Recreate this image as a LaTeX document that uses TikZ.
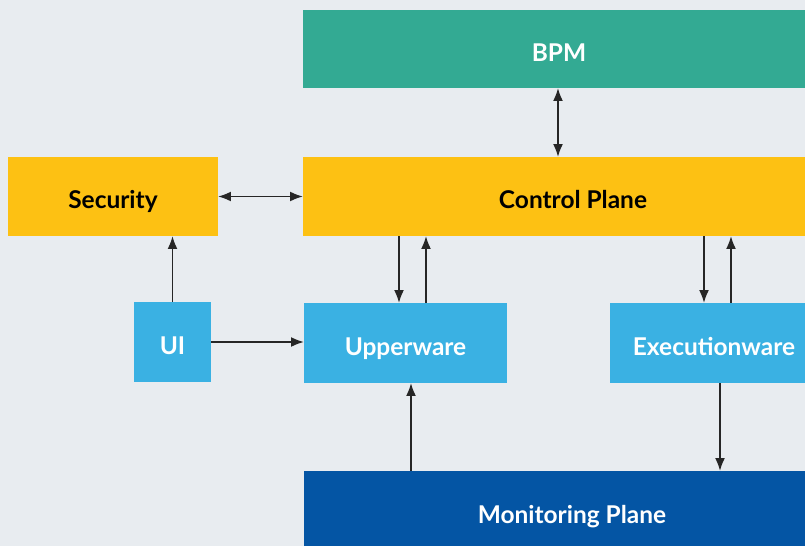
\documentclass[tikz,border=0pt]{standalone}
\usepackage{fontspec}
\setmainfont{Lato}
\usetikzlibrary{arrows.meta}
\usetikzlibrary{positioning}
\tikzset{box/.style = {rectangle, inner sep = 0, text height = 18pt, text depth = 0.6pt,
                       font = \bfseries\fontsize{17.4}{20}\selectfont}}
\tikzset{conn/.style = {line width = 0.8pt, draw = black!85, -{Latex[length=9pt, width=7pt]}}}
\tikzset{conn2/.style = {conn, {Latex[length=9pt, width=7pt]}-{Latex[length=9pt, width=7pt]}}}
\definecolor{mbg}{RGB}{232, 236, 240}
\definecolor{mteal}{RGB}{51, 170, 147}
\definecolor{myellow}{RGB}{253, 193, 19}
\definecolor{mblue}{RGB}{58, 177, 227}
\definecolor{mdark}{RGB}{4, 85, 164}
\begin{document}
\begin{tikzpicture}[x=0.025cm, y=-0.025cm]
      \useasboundingbox (0, 0) rectangle (805, 546);
      \fill [mbg] (0, 0) rectangle (805, 546);
      \clip (0, 0) rectangle (805, 546);

      \node [box, fill=mteal, text=white, minimum width=512*0.025cm, minimum height=78*0.025cm] (bpm) at (559, 49) {BPM};
      \node [box, fill=myellow, minimum width=540*0.025cm, minimum height=79*0.025cm] (cp) at (573, 196.5) {Control Plane};
      \node [box, fill=myellow, minimum width=210*0.025cm, minimum height=79*0.025cm] (sec) at (113, 196.5) {Security};
      \node [box, fill=mblue, text=white, minimum width=77*0.025cm, minimum height=80*0.025cm] (ui) at (172.5, 342) {UI};
      \node [box, fill=mblue, text=white, minimum width=203*0.025cm, minimum height=80*0.025cm] (up) at (405.5, 343) {Upperware};
      \node [box, fill=mblue, text=white, minimum width=208*0.025cm, minimum height=80*0.025cm] (ex) at (714, 343) {Executionware};
      \node [box, fill=mdark, text=white, minimum width=536*0.025cm, minimum height=80*0.025cm] (mon) at (572, 511) {Monitoring Plane};

      \draw [conn2] (bpm.south -| 558, 0) -- (cp.north -| 558, 0);
      \draw [conn2] (sec.east) -- (sec.east -| cp.west);
      \draw [conn] (ui.north) -- (sec.south -| ui.north);
      \draw [conn] (ui.east) -- (ui.east -| up.west);
      \draw [conn] (cp.south -| 399, 0) -- (up.north -| 399, 0);
      \draw [conn] (up.north -| 426, 0) -- (cp.south -| 426, 0);
      \draw [conn] (cp.south -| 704, 0) -- (ex.north -| 704, 0);
      \draw [conn] (ex.north -| 731, 0) -- (cp.south -| 731, 0);
      \draw [conn] (mon.north -| 411, 0) -- (up.south -| 411, 0);
      \draw [conn] (ex.south -| 720, 0) -- (mon.north -| 720, 0);
    \end{tikzpicture}
\end{document}
